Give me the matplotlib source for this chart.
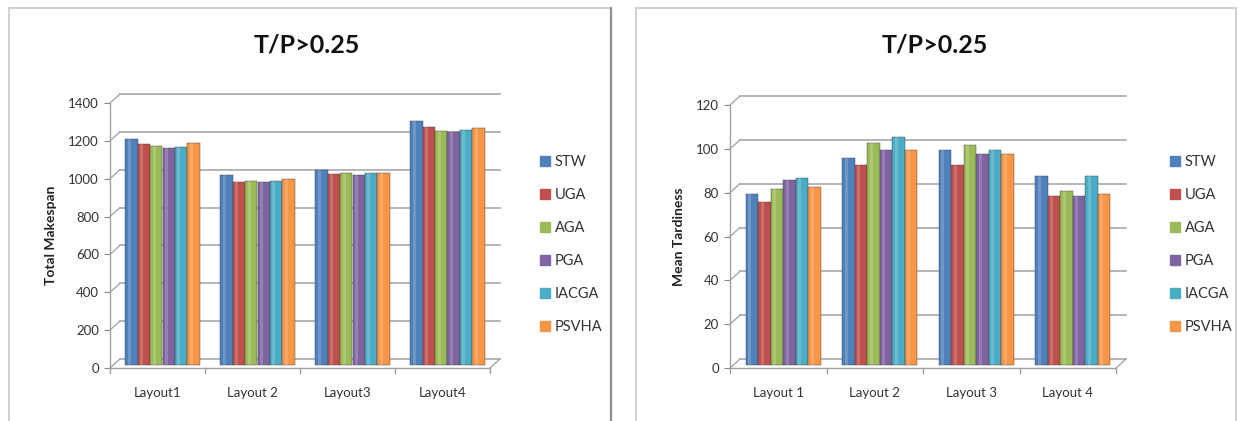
import numpy as np
import matplotlib
matplotlib.use('Agg')
import matplotlib.pyplot as plt
from matplotlib.transforms import ScaledTranslation
from matplotlib.patches import Rectangle

plt.rcParams['font.family'] = ['Lato', 'DejaVu Sans']

methods = ['STW', 'UGA', 'AGA', 'PGA', 'IACGA', 'PSVHA']
colors = ['#4F81BD', '#C0504D', '#9BBB59', '#8064A2', '#4BACC6', '#F79646']

makespan_layouts = ['Layout1', 'Layout 2', 'Layout3', 'Layout4']
makespan = {
    'STW':   [1190, 1000, 1030, 1285],
    'UGA':   [1165, 965, 1005, 1255],
    'AGA':   [1155, 970, 1010, 1235],
    'PGA':   [1145, 965, 1000, 1230],
    'IACGA': [1150, 972, 1010, 1240],
    'PSVHA': [1170, 980, 1010, 1250],
}
makespan_ticks = [0, 200, 400, 600, 800, 1000, 1200, 1400]

tardy_layouts = ['Layout 1', 'Layout 2', 'Layout 3', 'Layout 4']
tardiness = {
    'STW':   [78, 94, 98, 86],
    'UGA':   [74, 91, 91, 77],
    'AGA':   [80, 101, 100, 79],
    'PGA':   [84, 98, 96, 77],
    'IACGA': [85, 104, 98, 86],
    'PSVHA': [81, 98, 96, 78],
}
tardy_ticks = [0, 20, 40, 60, 80, 100, 120]

W, H = 1239, 421
fig = plt.figure(figsize=(W / 100, H / 100), dpi=100)

# panel frames
for x0, x1 in [(9, 611), (636, 1236)]:
    fig.add_artist(Rectangle((x0 / W, -0.01), (x1 - x0) / W, (H - 8) / H + 0.01,
                             transform=fig.transFigure, fill=False,
                             edgecolor='#c8c8c8', linewidth=1.2))
fig.add_artist(plt.Line2D([611 / W, 611 / W], [0, (H - 8) / H], transform=fig.transFigure,
                          color='#909090', linewidth=1.6))


def panel(rect, cats, data, ticks, ylabel, title_x, leg_x):
    ax = fig.add_axes(rect)
    n = len(cats)
    ax.set_xlim(0, n)
    ax.set_ylim(0, ticks[-1])
    for s in ax.spines.values():
        s.set_visible(False)
    ax.set_xticks([])
    ax.set_yticks(ticks)
    ax.set_yticklabels([str(t) for t in ticks], fontsize=9.5, color='#333333')
    ax.tick_params(axis='y', length=4, color='#888888', pad=4)

    # back wall / floor, faked 3d
    back = ax.transData + ScaledTranslation(0.10, 0.09, fig.dpi_scale_trans)
    for t in ticks:
        ax.plot([0, n], [t, t], color='#a0a0a0', linewidth=1.1, transform=back, clip_on=False)
    off_x = 0.10 * fig.dpi / (rect[2] * W) * n
    off_y = 0.09 * fig.dpi / (rect[3] * H) * ticks[-1]
    for t in ticks:
        ax.plot([0, off_x], [t, t + off_y], color='#a0a0a0', linewidth=0.9, clip_on=False)
    ax.plot([0, 0], [0, ticks[-1]], color='#a0a0a0', linewidth=1.0, clip_on=False)
    ax.plot([0, n], [0, 0], color='#a0a0a0', linewidth=1.0, clip_on=False)
    ax.plot([n, n + off_x], [0, off_y], color='#a0a0a0', linewidth=0.9, clip_on=False)
    for i in range(n + 1):
        ax.plot([i, i], [0, -ticks[-1] * 0.02], color='#a0a0a0', linewidth=1.0, clip_on=False)

    # bars sit at mid depth
    mid = ax.transData + ScaledTranslation(0.05, 0.035, fig.dpi_scale_trans)
    x = np.arange(n)
    bw = 0.13
    for j, m in enumerate(methods):
        pos = x + 0.5 + (j - 2.5) * bw
        ax.bar(pos, data[m], width=bw, color=colors[j], edgecolor='#3a3a3a',
               linewidth=0.3, transform=mid, label=m, zorder=3)
        ax.bar(pos - bw * 0.18, data[m], width=bw * 0.25, color='white', alpha=0.18,
               linewidth=0, transform=mid, zorder=4)
    for i, c in enumerate(cats):
        ax.text(i + 0.5, -ticks[-1] * 0.095, c, ha='center', va='center',
                fontsize=9.5, color='#333333')
    ax.set_ylabel(ylabel, fontsize=10, fontweight='bold', color='#222222', labelpad=8)

    fig.text(title_x / W, 1 - 45 / H, 'T/P>0.25', ha='center', va='center',
             fontsize=18, fontweight='bold', color='#111111')
    handles = [Rectangle((0, 0), 1, 1, color=c) for c in colors]
    fig.legend(handles, methods, loc='upper left', bbox_to_anchor=(leg_x / W, 1 - 142 / H),
               frameon=False, fontsize=10.5, handlelength=0.7, handleheight=0.7,
               handletextpad=0.3, labelspacing=1.3, labelcolor='#333333')
    return ax


panel([110 / W, (H - 368) / H, 380 / W, 265 / H], makespan_layouts, makespan,
      makespan_ticks, 'Total Makespan', 307, 527)
panel([730 / W, (H - 368) / H, 386 / W, 263 / H], tardy_layouts, tardiness,
      tardy_ticks, 'Mean Tardiness', 935, 1157)

fig.savefig('out.png', dpi=100)
